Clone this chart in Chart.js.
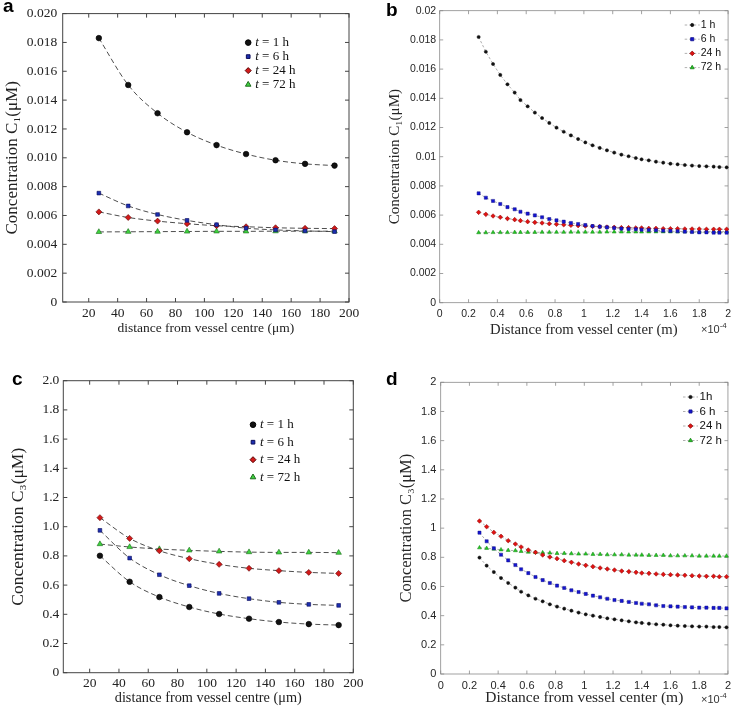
<!DOCTYPE html>
<html>
<head>
<meta charset="utf-8">
<title>Concentration profiles</title>
<script src="https://cdn.jsdelivr.net/npm/chart.js@4.4.1/dist/chart.umd.min.js"></script>
<style>
  html, body { margin: 0; padding: 0; background: #fff; }
  #fig { position: relative; width: 736px; height: 713px; overflow: hidden; }
  #fig canvas { position: absolute; }
  .lab { position: absolute; font: bold 19px "Liberation Sans", Arial, sans-serif; line-height: 19px; color: #000; }
  .mul { position: absolute; font: 11px "Liberation Sans", Arial, sans-serif; color: #333; }
  .mul sup { font-size: 8px; }
</style>
</head>
<body>
<div id="fig">
  <canvas id="cA" width="368" height="345" style="left:0;top:0"></canvas>
  <canvas id="cB" width="368" height="345" style="left:368px;top:0"></canvas>
  <canvas id="cC" width="368" height="363" style="left:0;top:350px"></canvas>
  <canvas id="cD" width="368" height="363" style="left:368px;top:350px"></canvas>
  <div class="lab" style="left:3px;top:-4px">a</div>
  <div class="lab" style="left:386px;top:0px">b</div>
  <div class="lab" style="left:12px;top:369px">c</div>
  <div class="lab" style="left:386px;top:369px">d</div>
  <div class="mul" style="left:701px;top:321px">&times;10<sup>-4</sup></div>
  <div class="mul" style="left:701px;top:691px">&times;10<sup>-4</sup></div>
</div>
<script>
// ---- panels a, c: distance in µm ----
const distUm = [27, 47.3, 67.6, 88, 108.4, 128.8, 149.2, 169.6, 190];
const ticksUm = [20, 40, 60, 80, 100, 120, 140, 160, 180, 200];

const a1h  = [0.0183, 0.01505, 0.01309, 0.01177, 0.01088, 0.01026, 0.00983, 0.00958, 0.00946];
const a6h  = [0.00755, 0.00666, 0.00607, 0.00566, 0.00536, 0.00512, 0.00500, 0.00493, 0.00488];
const a24h = [0.00625, 0.00586, 0.00561, 0.00543, 0.00529, 0.00522, 0.00515, 0.00511, 0.00509];
const a72h = [0.00486, 0.00487, 0.00488, 0.00489, 0.00490, 0.00490, 0.00491, 0.00491, 0.00491];

const c1h  = [0.801, 0.623, 0.518, 0.450, 0.402, 0.370, 0.347, 0.333, 0.326];
const c6h  = [0.975, 0.785, 0.671, 0.596, 0.543, 0.507, 0.482, 0.468, 0.461];
const c24h = [1.062, 0.920, 0.835, 0.781, 0.742, 0.715, 0.699, 0.687, 0.680];
const c72h = [0.881, 0.861, 0.847, 0.838, 0.831, 0.826, 0.824, 0.824, 0.822];

// ---- panels b, d: distance in units of 1e-4 m ----
const distM = [0.27, 0.32, 0.37, 0.42, 0.47, 0.52, 0.56, 0.61, 0.66, 0.71, 0.76, 0.81,
  0.86, 0.91, 0.96, 1.01, 1.06, 1.11, 1.16, 1.21, 1.26, 1.31, 1.36, 1.40,
  1.45, 1.50, 1.55, 1.60, 1.65, 1.70, 1.75, 1.80, 1.85, 1.90, 1.94, 1.99];
const ticksM = [0, 0.2, 0.4, 0.6, 0.8, 1, 1.2, 1.4, 1.6, 1.8, 2];

const b1h = [0.01820, 0.01719, 0.01635, 0.01560, 0.01496, 0.01439, 0.01388, 0.01345, 0.01302,
  0.01265, 0.01231, 0.01199, 0.01171, 0.01146, 0.01121, 0.01098, 0.01078, 0.01060,
  0.01044, 0.01028, 0.01014, 0.01003, 0.00991, 0.00982, 0.00975, 0.00966, 0.00959,
  0.00952, 0.00948, 0.00943, 0.00939, 0.00936, 0.00934, 0.00932, 0.00929, 0.00927];
const b6h = [0.00749, 0.00719, 0.00697, 0.00676, 0.00655, 0.00640, 0.00623, 0.00610, 0.00598,
  0.00585, 0.00573, 0.00564, 0.00555, 0.00546, 0.00539, 0.00532, 0.00525, 0.00521,
  0.00516, 0.00512, 0.00507, 0.00505, 0.00503, 0.00500, 0.00498, 0.00496, 0.00493,
  0.00491, 0.00489, 0.00487, 0.00484, 0.00482, 0.00482, 0.00480, 0.00480, 0.00480];
const b24h = [0.00619, 0.00605, 0.00594, 0.00585, 0.00576, 0.00569, 0.00562, 0.00555, 0.00550,
  0.00546, 0.00541, 0.00537, 0.00534, 0.00530, 0.00528, 0.00525, 0.00523, 0.00521,
  0.00518, 0.00516, 0.00514, 0.00514, 0.00512, 0.00512, 0.00509, 0.00509, 0.00507,
  0.00507, 0.00507, 0.00505, 0.00505, 0.00505, 0.00503, 0.00503, 0.00503, 0.00503];
const b72h = [0.00480, 0.00480, 0.00481, 0.00481, 0.00481, 0.00482, 0.00482, 0.00482, 0.00482,
  0.00483, 0.00483, 0.00483, 0.00483, 0.00484, 0.00484, 0.00484, 0.00484, 0.00484,
  0.00485, 0.00485, 0.00485, 0.00485, 0.00485, 0.00485, 0.00486, 0.00486, 0.00486,
  0.00486, 0.00486, 0.00486, 0.00486, 0.00486, 0.00487, 0.00487, 0.00487, 0.00487];

const d1h = [0.798, 0.743, 0.699, 0.658, 0.624, 0.592, 0.564, 0.539, 0.516, 0.498, 0.478, 0.462,
  0.448, 0.434, 0.421, 0.409, 0.400, 0.391, 0.382, 0.375, 0.368, 0.361, 0.354, 0.350,
  0.345, 0.341, 0.338, 0.334, 0.331, 0.329, 0.327, 0.325, 0.325, 0.322, 0.322, 0.320];
const d6h = [0.969, 0.910, 0.862, 0.818, 0.779, 0.747, 0.718, 0.692, 0.665, 0.644, 0.624, 0.606,
  0.590, 0.574, 0.562, 0.549, 0.537, 0.526, 0.516, 0.507, 0.501, 0.494, 0.487, 0.482,
  0.478, 0.471, 0.466, 0.464, 0.462, 0.459, 0.457, 0.455, 0.455, 0.453, 0.453, 0.450];
const d24h = [1.049, 1.010, 0.971, 0.944, 0.914, 0.891, 0.871, 0.850, 0.834, 0.816, 0.802, 0.791,
  0.777, 0.766, 0.754, 0.745, 0.736, 0.727, 0.720, 0.713, 0.706, 0.702, 0.697, 0.692,
  0.690, 0.686, 0.683, 0.681, 0.679, 0.677, 0.674, 0.672, 0.670, 0.670, 0.667, 0.667];
const d72h = [0.866, 0.862, 0.857, 0.852, 0.848, 0.846, 0.841, 0.836, 0.834, 0.832, 0.830, 0.827,
  0.827, 0.825, 0.823, 0.823, 0.821, 0.821, 0.818, 0.818, 0.818, 0.816, 0.816, 0.816,
  0.814, 0.814, 0.814, 0.811, 0.811, 0.811, 0.811, 0.809, 0.809, 0.809, 0.809, 0.809];

const ticksC1 = [0, 0.002, 0.004, 0.006, 0.008, 0.010, 0.012, 0.014, 0.016, 0.018, 0.020];
const ticksC3 = [0, 0.2, 0.4, 0.6, 0.8, 1.0, 1.2, 1.4, 1.6, 1.8, 2.0];

const labelsAC = ['t = 1 h', 't = 6 h', 't = 24 h', 't = 72 h'];
const labelsB = ['1 h', '6 h', '24 h', '72 h'];
const labelsD = ['1h', '6 h', '24 h', '72 h'];

// ---- styles ----
const serif = '"Liberation Serif", "Times New Roman", serif';
const sans = '"Liberation Sans", Arial, sans-serif';

const marksAC = [
  { pointStyle: 'circle', pointRadius: 2.8, pointBackgroundColor: '#111', pointBorderColor: '#000' },
  { pointStyle: 'rect', pointRadius: 2.6, pointBackgroundColor: '#1c2fb0', pointBorderColor: '#0b0b5a' },
  { pointStyle: 'rectRot', pointRadius: 3, pointBackgroundColor: '#d21a1a', pointBorderColor: '#5a0000' },
  { pointStyle: 'triangle', pointRadius: 3.2, pointBackgroundColor: '#3ed23e', pointBorderColor: '#1d6b1d' },
];
const marksBD = [
  { pointStyle: 'circle', pointRadius: 1.6, pointBackgroundColor: '#111', pointBorderColor: '#111' },
  { pointStyle: 'rect', pointRadius: 2.2, pointBackgroundColor: '#1414d2', pointBorderColor: '#10108a' },
  { pointStyle: 'rectRot', pointRadius: 2.3, pointBackgroundColor: '#e01212', pointBorderColor: '#8a0000' },
  { pointStyle: 'triangle', pointRadius: 2.3, pointBackgroundColor: '#22c822', pointBorderColor: '#168016' },
];
const lineAC = { borderColor: '#3a3a3a', borderWidth: 0.9, borderDash: [5, 3], tension: 0.4, cubicInterpolationMode: 'monotone' };
const lineBD = { borderColor: '#9a9a9a', borderWidth: 0.8, borderDash: [2.5, 2], tension: 0 };

// box with inward ticks on all four sides
const frameTicks = {
  id: 'frameTicks',
  beforeDatasetsDraw(chart, args, o) {
    const { ctx, chartArea: a, scales } = chart;
    ctx.save();
    ctx.strokeStyle = o.color;
    ctx.lineWidth = o.width;
    ctx.beginPath();
    scales.x.ticks.forEach(t => {
      const p = scales.x.getPixelForValue(t.value);
      ctx.moveTo(p, a.bottom); ctx.lineTo(p, a.bottom - o.len);
      ctx.moveTo(p, a.top); ctx.lineTo(p, a.top + o.len);
    });
    scales.y.ticks.forEach(t => {
      const p = scales.y.getPixelForValue(t.value);
      ctx.moveTo(a.left, p); ctx.lineTo(a.left + o.len, p);
      ctx.moveTo(a.right, p); ctx.lineTo(a.right - o.len, p);
    });
    ctx.stroke();
    ctx.strokeRect(a.left, a.top, a.right - a.left, a.bottom - a.top);
    ctx.restore();
  }
};

// legend drawn inside the plot area
const insideLegend = {
  id: 'insideLegend',
  afterDatasetsDraw(chart, args, o) {
    const { ctx, chartArea: a } = chart;
    ctx.save();
    chart.data.datasets.forEach((ds, i) => {
      const x = a.left + o.left;
      const y = a.top + o.top + i * o.rowH;
      if (o.lineLen) {
        ctx.strokeStyle = ds.borderColor;
        ctx.lineWidth = ds.borderWidth;
        ctx.setLineDash(ds.borderDash);
        ctx.beginPath();
        ctx.moveTo(x - o.lineLen / 2, y);
        ctx.lineTo(x + o.lineLen / 2, y);
        ctx.stroke();
        ctx.setLineDash([]);
      }
      ctx.fillStyle = ds.pointBackgroundColor;
      ctx.strokeStyle = ds.pointBorderColor;
      Chart.helpers.drawPoint(ctx, {
        pointStyle: ds.pointStyle, radius: ds.pointRadius, rotation: 0, borderWidth: ds.pointBorderWidth
      }, x, y);
      let tx = x + o.gap;
      let text = ds.label;
      ctx.fillStyle = o.color;
      ctx.textAlign = 'left';
      ctx.textBaseline = 'middle';
      if (o.italicFirst) {
        ctx.font = 'italic ' + o.font;
        ctx.fillText(text[0], tx, y);
        tx += ctx.measureText(text[0]).width;
        text = text.slice(1);
      }
      ctx.font = o.font;
      ctx.fillText(text, tx, y);
    });
    ctx.restore();
  }
};

function panel(id, p) {
  return new Chart(document.getElementById(id), {
    type: 'scatter',
    data: {
      datasets: p.series.map((ys, i) => ({
        label: p.labels[i],
        data: ys.map((y, j) => ({ x: p.xs[j], y })),
        showLine: true,
        ...p.line,
        ...p.marks[i],
        pointBorderWidth: p.markBorder,
        clip: 6,
      })),
    },
    options: {
      responsive: false,
      animation: false,
      events: [],
      layout: { padding: p.pad },
      plugins: {
        legend: { display: false },
        tooltip: { enabled: false },
        frameTicks: p.frame,
        insideLegend: p.legend,
      },
      scales: {
        x: {
          type: 'linear', min: p.xMin, max: p.xMax,
          afterBuildTicks: s => { s.ticks = p.xTicks.map(v => ({ value: v })); },
          afterFit: s => { s.height = p.xH; },
          grid: { display: false, drawTicks: false },
          border: { display: false },
          ticks: { font: p.tickFont, color: p.tickColor, padding: p.xPad, maxRotation: 0, autoSkip: false, callback: p.xFmt },
          title: { display: true, text: p.xTitle, font: p.xTitleFont, color: p.titleColor, padding: { top: 0, bottom: p.xTitlePad } },
        },
        y: {
          type: 'linear', min: p.yMin, max: p.yMax,
          afterBuildTicks: s => { s.ticks = p.yTicks.map(v => ({ value: v })); },
          afterFit: s => { s.width = p.yW; },
          grid: { display: false, drawTicks: false },
          border: { display: false },
          ticks: { font: p.tickFont, color: p.tickColor, padding: p.yPad, autoSkip: false, callback: p.yFmt },
          title: { display: true, text: p.yTitle, font: p.yTitleFont, color: p.titleColor, padding: { top: p.yTitlePad, bottom: 0 } },
        },
      },
    },
    plugins: [frameTicks, insideLegend],
  });
}

const fmtMatlab = v => String(+v.toFixed(4));

panel('cA', {
  xs: distUm, series: [a1h, a6h, a24h, a72h], labels: labelsAC,
  line: lineAC, marks: marksAC, markBorder: 0.6,
  pad: { top: 10, right: 19, left: 0, bottom: 0 }, yW: 62.7, xH: 43,
  xMin: 2, xMax: 200, xTicks: ticksUm, xFmt: v => String(v),
  yMin: 0, yMax: 0.02, yTicks: ticksC1, yFmt: v => v === 0 ? '0' : v.toFixed(3),
  tickFont: { family: serif, size: 13.5 }, tickColor: '#222', xPad: 3, yPad: 5.5,
  xTitle: 'distance from vessel centre (μm)', xTitleFont: { family: serif, size: 13.5 }, xTitlePad: 8,
  yTitle: 'Concentration C₁(μM)', yTitleFont: { family: serif, size: 17 }, yTitlePad: 2,
  titleColor: '#222',
  frame: { color: '#444', width: 1, len: 4 },
  legend: { left: 185.5, top: 29, rowH: 14, gap: 7, font: '13px ' + serif, color: '#111', italicFirst: true },
});

panel('cB', {
  xs: distM, series: [b1h, b6h, b24h, b72h], labels: labelsB,
  line: lineBD, marks: marksBD, markBorder: 0.5,
  pad: { top: 10.7, right: 6.3, left: 0, bottom: 0 }, yW: 71.7, xH: 42.3,
  xMin: 0, xMax: 2, xTicks: ticksM, xFmt: fmtMatlab,
  yMin: 0, yMax: 0.02, yTicks: ticksC1, yFmt: fmtMatlab,
  tickFont: { family: sans, size: 10.5 }, tickColor: '#262626', xPad: 5, yPad: 3.5,
  xTitle: 'Distance from vessel center (m)', xTitleFont: { family: serif, size: 14.7 }, xTitlePad: 6,
  yTitle: 'Concentration C₁(μM)', yTitleFont: { family: serif, size: 15 }, yTitlePad: 18,
  titleColor: '#262626',
  frame: { color: '#8a8a8a', width: 0.8, len: 3.5 },
  legend: { left: 252.5, top: 14.3, rowH: 14.2, gap: 8.5, lineLen: 15, font: '10.5px ' + sans, color: '#111' },
});

panel('cC', {
  xs: distUm, series: [c1h, c6h, c24h, c72h], labels: labelsAC,
  line: lineAC, marks: marksAC, markBorder: 0.6,
  pad: { top: 30.7, right: 14.7, left: 0, bottom: 0 }, yW: 63.3, xH: 40.3,
  xMin: 2, xMax: 200, xTicks: ticksUm, xFmt: v => String(v),
  yMin: 0, yMax: 2, yTicks: ticksC3, yFmt: v => v === 0 ? '0' : v.toFixed(1),
  tickFont: { family: serif, size: 13.5 }, tickColor: '#222', xPad: 3, yPad: 4,
  xTitle: 'distance from vessel centre (μm)', xTitleFont: { family: serif, size: 14.3 }, xTitlePad: 6.4,
  yTitle: 'Concentration C₃(μM)', yTitleFont: { family: serif, size: 17.5 }, yTitlePad: 7.5,
  titleColor: '#222',
  frame: { color: '#444', width: 1, len: 4 },
  legend: { left: 189.7, top: 44, rowH: 17.5, gap: 7, font: '13px ' + serif, color: '#111', italicFirst: true },
});

panel('cD', {
  xs: distM, series: [d1h, d6h, d24h, d72h], labels: labelsD,
  line: lineBD, marks: marksBD, markBorder: 0.5,
  pad: { top: 32.3, right: 7, left: 0, bottom: 0 }, yW: 72.7, xH: 39,
  xMin: 0, xMax: 2, xTicks: ticksM, xFmt: fmtMatlab,
  yMin: 0, yMax: 2, yTicks: ticksC3, yFmt: fmtMatlab,
  tickFont: { family: sans, size: 11 }, tickColor: '#262626', xPad: 5, yPad: 4.4,
  xTitle: 'Distance from vessel center (m)', xTitleFont: { family: serif, size: 15.5 }, xTitlePad: 5.7,
  yTitle: 'Concentration C₃(μM)', yTitleFont: { family: serif, size: 16.5 }, yTitlePad: 29,
  titleColor: '#262626',
  frame: { color: '#8a8a8a', width: 0.8, len: 3.5 },
  legend: { left: 249.8, top: 14.7, rowH: 14.5, gap: 9, lineLen: 15, font: '11.5px ' + sans, color: '#111' },
});
</script>
</body>
</html>
